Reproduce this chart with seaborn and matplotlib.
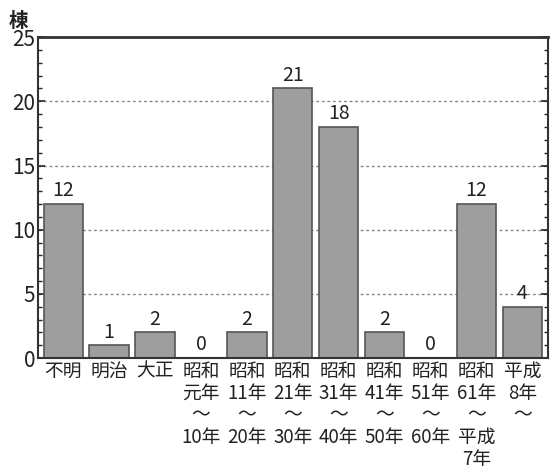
import matplotlib
matplotlib.use("Agg")
import matplotlib.pyplot as plt
import seaborn as sns
from matplotlib.ticker import MultipleLocator

categories = ["不明", "明治", "大正", "昭和\n元年\n～\n10年", "昭和\n11年\n～\n20年",
              "昭和\n21年\n～\n30年", "昭和\n31年\n～\n40年", "昭和\n41年\n～\n50年",
              "昭和\n51年\n～\n60年", "昭和\n61年\n～\n平成\n7年", "平成\n8年\n～"]
values = [12, 1, 2, 0, 2, 21, 18, 2, 0, 12, 4]
yticks = [0, 5, 10, 15, 20, 25]

sns.set_style("white")
plt.rcParams['font.family'] = ['Noto Sans CJK JP', 'DejaVu Sans']

fig = plt.figure(figsize=(5.55, 4.7), dpi=100)
ax = fig.add_axes([0.0685, 0.238, 0.918, 0.683])

sns.barplot(x=categories, y=values, color="#9e9e9e", edgecolor="#555555",
            linewidth=1.2, width=0.86, saturation=1, ax=ax)
ax.bar_label(ax.containers[0], labels=[str(v) for v in values], fontsize=14,
             padding=2, color="#222222")

ax.set_ylim(0, 25)
ax.set_xlim(-0.55, len(values) - 0.45)
ax.set_yticks(yticks)
ax.yaxis.set_minor_locator(MultipleLocator(1))
ax.tick_params(axis='y', which='major', direction='in', length=5, width=1.2,
               labelsize=15, pad=2, colors="#222222", left=True, right=True)
ax.tick_params(axis='y', which='minor', direction='in', length=3, width=1,
               left=True, right=True)
ax.tick_params(axis='x', length=0, labelsize=13.5, pad=2, colors="#222222")
for lab in ax.get_xticklabels():
    lab.set_linespacing(1.06)

for y in [5, 10, 15, 20]:
    ax.axhline(y, color="#888888", linestyle=(0, (2, 2)), linewidth=1, zorder=0)
ax.set_axisbelow(True)

for s in ax.spines.values():
    s.set_visible(True)
    s.set_color("#333333")
    s.set_linewidth(1.5)
ax.spines['top'].set_linewidth(2)

ax.set_xlabel("")
ax.set_ylabel("")
fig.text(0.016, 0.955, "棟", fontsize=14, fontweight='bold', color="#222222", va='center')

fig.savefig("out.png", dpi=100)
